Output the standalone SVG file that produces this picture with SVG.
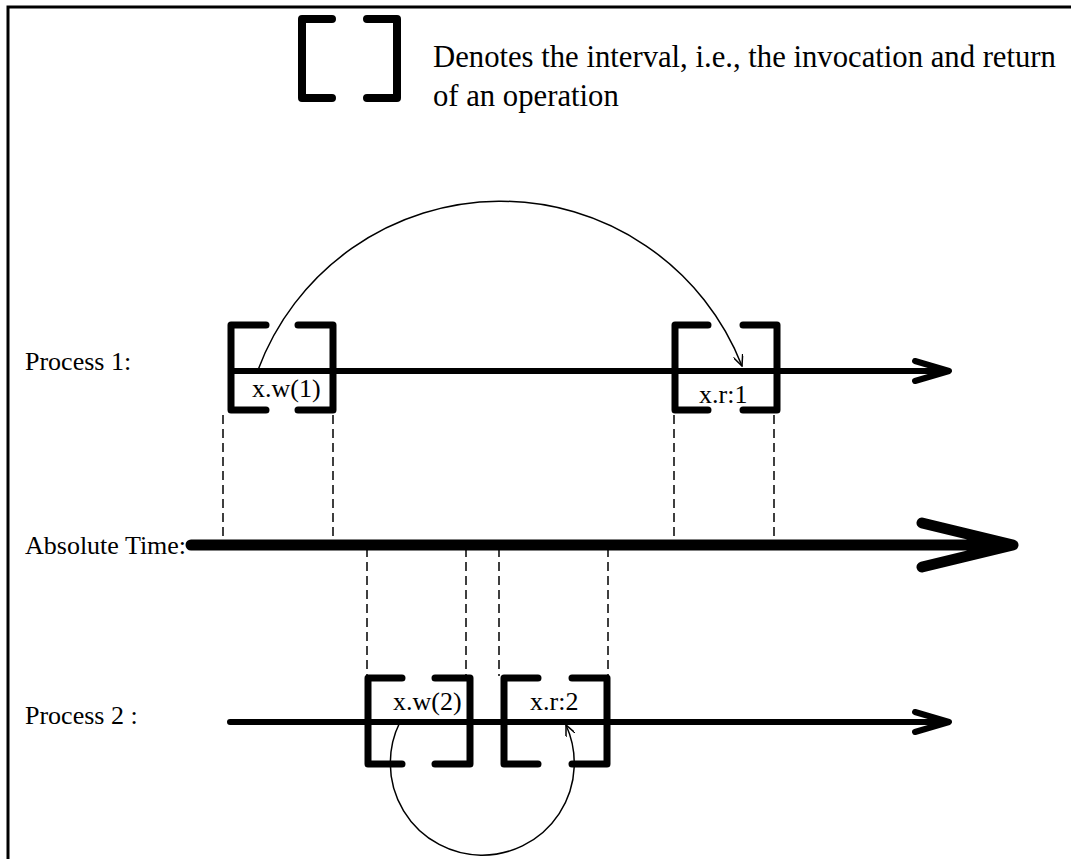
<svg xmlns="http://www.w3.org/2000/svg" width="1071" height="859" viewBox="0 0 1071 859">
<defs>
<style>
.txt{font-family:"Liberation Serif","Times New Roman",serif;fill:#000}
.lbl{font-size:26px}
.leg{font-size:30.7px}
.br{fill:none;stroke:#000;stroke-width:7;stroke-linecap:round;stroke-linejoin:round}
.brl{fill:none;stroke:#000;stroke-width:8;stroke-linecap:round;stroke-linejoin:round}
.proc{fill:none;stroke:#000;stroke-width:6;stroke-linecap:round;stroke-linejoin:round}
.abs{fill:none;stroke:#000;stroke-width:11;stroke-linecap:round;stroke-linejoin:round}
.dash{fill:none;stroke:#000;stroke-width:1.5;stroke-dasharray:9,5}
.arc{fill:none;stroke:#000;stroke-width:1.5}
</style>
<marker id="open" viewBox="0 0 12 10" refX="11" refY="5" markerWidth="12" markerHeight="10" markerUnits="userSpaceOnUse" orient="auto">
<path d="M0,0 L11,5 L0,10" fill="none" stroke="#000" stroke-width="1.5"/>
</marker>
</defs>
<rect width="1071" height="859" fill="#fff"/>
<g id="frame">
<path d="M8,859 L8,7 L1071,7" fill="none" stroke="#000" stroke-width="3"/>
</g>
<g id="legend">
<path class="brl" d="M332,19 L302,19 L302,98 L332,98"/>
<path class="brl" d="M367,19 L397,19 L397,98 L367,98"/>
<text class="txt leg" x="433" y="67">Denotes the interval, i.e., the invocation and return</text>
<text class="txt leg" x="433" y="106">of an operation</text>
</g>
<g id="labels">
<text class="txt lbl" x="25" y="370">Process 1:</text>
<text class="txt lbl" x="25" y="554">Absolute Time:</text>
<text class="txt lbl" x="25" y="724">Process 2 :</text>
</g>
<g id="timelines">
<path class="proc" d="M231,371 L948,371 M915,361 L949,371 L915,381"/>
<path class="abs" d="M191,545 L1012,545 M922,523 L1013,545 L922,567"/>
<path class="proc" d="M230,722 L948,722 M915,712 L949,722 L915,732"/>
</g>
<g id="op-w1">
<path class="br" d="M266,325 L231,325 L231,410 L266,410"/>
<path class="br" d="M298,325 L333,325 L333,410 L298,410"/>
<text class="txt lbl" x="252" y="397">x.w(1)</text>
</g>
<g id="op-r1">
<path class="br" d="M708,325 L675,325 L675,410 L708,410"/>
<path class="br" d="M743,325 L777,325 L777,410 L743,410"/>
<text class="txt lbl" x="699" y="403">x.r:1</text>
</g>
<g id="op-w2">
<path class="br" d="M402,678 L368,678 L368,764 L402,764"/>
<path class="br" d="M435,678 L470,678 L470,764 L435,764"/>
<text class="txt lbl" x="393" y="710">x.w(2)</text>
</g>
<g id="op-r2">
<path class="br" d="M538,678 L504,678 L504,764 L538,764"/>
<path class="br" d="M572,678 L607,678 L607,764 L572,764"/>
<text class="txt lbl" x="530" y="710">x.r:2</text>
</g>
<g id="connectors">
<path class="dash" d="M223,415 L223,543 M333,415 L333,543 M674,415 L674,543 M774,415 L774,543"/>
<path class="dash" d="M367,548 L367,676 M466,548 L466,676 M499,548 L499,676 M608,548 L608,676"/>
<path class="arc" d="M258,370 A259,259 0 0,1 742,366" marker-end="url(#open)"/>
<path class="arc" d="M400,722 A92,92 0 1,0 566,725" marker-end="url(#open)"/>
</g>
</svg>
